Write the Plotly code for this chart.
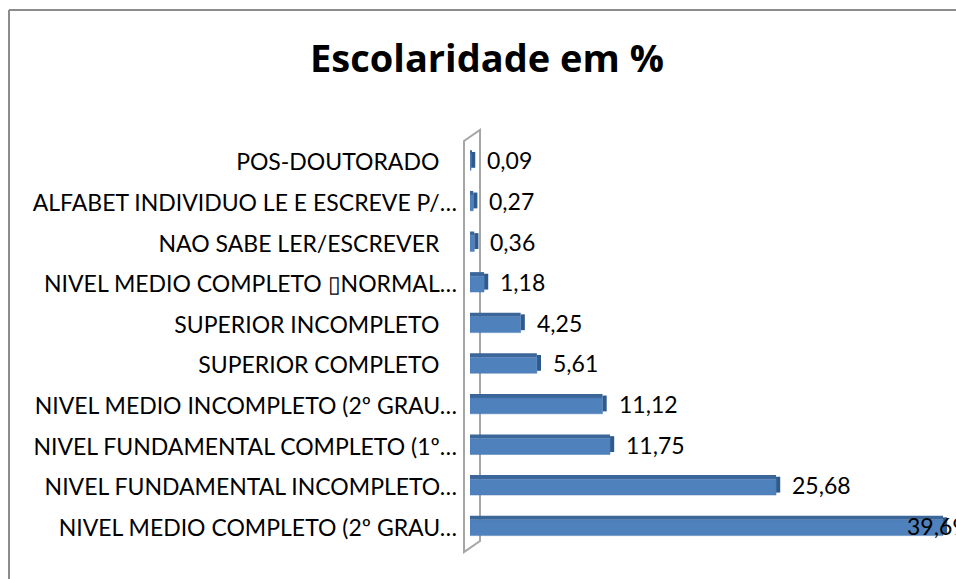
import plotly.graph_objects as go

categories = [
    "NIVEL MEDIO COMPLETO (2º GRAU…",
    "NIVEL FUNDAMENTAL INCOMPLETO…",
    "NIVEL FUNDAMENTAL COMPLETO (1º…",
    "NIVEL MEDIO INCOMPLETO (2º GRAU…",
    "SUPERIOR COMPLETO\u00a0\u00a0\u00a0",
    "SUPERIOR INCOMPLETO\u00a0\u00a0\u00a0",
    "NIVEL MEDIO COMPLETO \u25afNORMAL…",
    "NAO SABE LER/ESCREVER\u00a0\u00a0\u00a0",
    "ALFABET INDIVIDUO LE E ESCREVE P/…",
    "POS-DOUTORADO\u00a0\u00a0\u00a0",
]
values = [39.69, 25.68, 11.75, 11.12, 5.61, 4.25, 1.18, 0.36, 0.27, 0.09]
title_text = "Escolaridade em %"

W, H = 956, 579
ML, MR, MT, MB = 470, 0, 142, 31
PW, PH = W - ML - MR, H - MT - MB
XMAX = 40.78

def px(x):
    return (x - ML) / PW

def py(y):
    return (H - MB - y) / PH

FONT = "Lato"
front = "#4F81BD"
top_c = "#3B6699"
side_c = "#2F5A8C"

fig = go.Figure()
# right side face (depth)
fig.add_trace(go.Bar(
    x=[0.35] * len(values), base=values, y=categories, orientation="h",
    width=0.39, offset=-0.195 + 0.06, marker=dict(color=side_c, line=dict(width=0)),
    hoverinfo="skip", showlegend=False))
# top face
fig.add_trace(go.Bar(
    x=values, y=categories, orientation="h",
    width=0.1, offset=0.195, marker=dict(color=top_c, line=dict(width=0)),
    hoverinfo="skip", showlegend=False))
# front face
fig.add_trace(go.Bar(
    x=values, y=categories, orientation="h",
    width=0.39, offset=-0.195,
    marker=dict(color=front, line=dict(color="#4A7AB3", width=0.5)),
    showlegend=False))

annotations = []
for i, (c, v) in enumerate(zip(categories, values)):
    fits = (v / XMAX) * PW + 75 < PW
    annotations.append(dict(
        x=v, y=c, xref="x", yref="y", text=f"{v:.2f}".replace(".", ","),
        showarrow=False, xanchor="left", yanchor="middle",
        xshift=14 if fits else -38, yshift=2,
        font=dict(family=FONT, size=23, color="#000000")))

shapes = [
    # 3D wall
    dict(type="path", xref="paper", yref="paper", layer="below",
         path=(f"M {px(464)} {py(141)} L {px(480)} {py(130)} L {px(480)} {py(541)} "
               f"L {px(464)} {py(552)} Z"),
         line=dict(color="#A6A6A6", width=2), fillcolor="#FFFFFF"),
    # chart border (left & top)
    dict(type="line", xref="paper", yref="paper", x0=px(9), y0=py(10), x1=px(9), y1=py(590),
         line=dict(color="#8C8C8C", width=2)),
    dict(type="line", xref="paper", yref="paper", x0=px(9), y0=py(10), x1=px(970), y1=py(10),
         line=dict(color="#8C8C8C", width=2)),
]

fig.update_layout(
    width=W, height=H,
    margin=dict(l=ML, r=MR, t=MT, b=MB),
    paper_bgcolor="white", plot_bgcolor="white",
    barmode="overlay",
    title=dict(text=f"<b>{title_text}</b>", x=487 / W, xref="container", xanchor="center",
               y=1 - 59 / H, yref="container", yanchor="middle",
               font=dict(family="Open Sans", size=38, color="#000000")),
    xaxis=dict(range=[0, XMAX], visible=False, fixedrange=True),
    yaxis=dict(categoryorder="array", categoryarray=categories, range=[-0.5, 9.5],
               showgrid=False, zeroline=False, showline=False, ticks="",
               ticklabelstandoff=12, fixedrange=True,
               tickfont=dict(family=FONT, size=23, color="#000000")),
    annotations=annotations,
    shapes=shapes,
    separators=", ",
)
for s in fig.data:
    s.cliponaxis = False

fig.write_html("out.html", config={"displayModeBar": False},
               post_script="document.body.style.margin='0';document.body.style.overflow='hidden';")
